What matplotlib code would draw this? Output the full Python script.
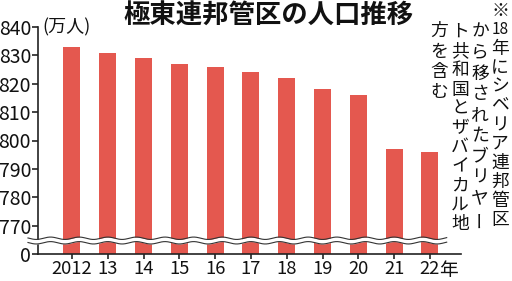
import numpy as np
import matplotlib
matplotlib.use("Agg")
import matplotlib.pyplot as plt

plt.rcParams['font.family'] = ['Noto Sans CJK JP', 'DejaVu Sans']

# data (万人)
years = ['2012', '13', '14', '15', '16', '17', '18', '19', '20', '21', '22']
population = np.array([833, 831, 829, 827, 826, 824, 822, 818, 816, 797, 796])
tick_values = [0, 770, 780, 790, 800, 810, 820, 830, 840]

# broken axis: 0 sits one step below 770
base = 760
def to_axis(v):
    v = np.asarray(v, dtype=float)
    return np.where(v > 0, v - base, 0.0)

W, H = 512, 281
fig = plt.figure(figsize=(W / 100, H / 100), dpi=100)
ax = fig.add_axes([38 / W, 1 - 254 / H, (461 - 38) / W, (254 - 27) / H])

x = np.arange(len(years))
ax.bar(x, to_axis(population), width=0.475, color='#e4584f', zorder=2)

ax.set_xlim(-0.95, 10.87)
ax.set_ylim(0, 80)
ax.set_yticks(to_axis(tick_values))
ax.set_yticklabels([str(t) for t in tick_values])
ax.set_xticks(x)
ax.set_xticklabels(years)

for s in ['top', 'right']:
    ax.spines[s].set_visible(False)
for s in ['left', 'bottom']:
    ax.spines[s].set_linewidth(1.2)
    ax.spines[s].set_color('#222222')
ax.tick_params(axis='y', length=4.5, width=1.1, pad=0.5, labelsize=14, colors='#111111')
ax.tick_params(axis='x', length=3.5, width=1.1, pad=1, labelsize=13.2, colors='#111111')

ax.annotate('年', xy=(10, 0), xycoords=('data', 'axes fraction'),
            xytext=(6.5, -4.5), textcoords='offset points',
            ha='left', va='top', fontsize=13.5, color='#111111')

# wavy break band
wx = np.linspace(-1.23, 10.47, 600)
wave = 0.42 * np.sin(2 * np.pi * wx / 0.8)
yc = 4.75
ax.fill_between(wx, yc - 0.8 + wave, yc + 0.8 + wave, color='white',
                zorder=5, clip_on=False, linewidth=0)
ax.plot(wx, yc + 0.8 + wave, color='#333333', lw=0.8, zorder=6, clip_on=False)
ax.plot(wx, yc - 0.8 + wave, color='#333333', lw=0.8, zorder=6, clip_on=False)

def px(xp, yp):
    return xp / W, 1 - yp / H

fig.text(*px(269, 16), '極東連邦管区の人口推移', ha='center', va='center',
         fontsize=19, fontweight='bold', color='#111111')
fig.text(*px(42, 27), '(万人)', ha='left', va='center', fontsize=13, color='#111111')

# vertical note, right to left
columns = [['※', '18', '年', 'に', 'シ', 'ベ', 'リ', 'ア', '連', '邦', '管', '区'],
           list('から移されたブリヤー'),
           list('ト共和国とザバイカル地'),
           list('方を含む')]
col_x = [500, 480, 460, 439]
col_y0 = [11, 32, 32, 31]
col_step = [19.0, 20.8, 19.2, 20.5]
for cells, cx, y0, step in zip(columns, col_x, col_y0, col_step):
    for i, ch in enumerate(cells):
        rot = 90 if ch == 'ー' else 0
        fs = 11 if ch == '18' else 12.8
        fig.text(*px(cx, y0 + i * step), ch, ha='center', va='center',
                 fontsize=fs, rotation=rot, color='#111111')

fig.savefig('out.png', dpi=100)
